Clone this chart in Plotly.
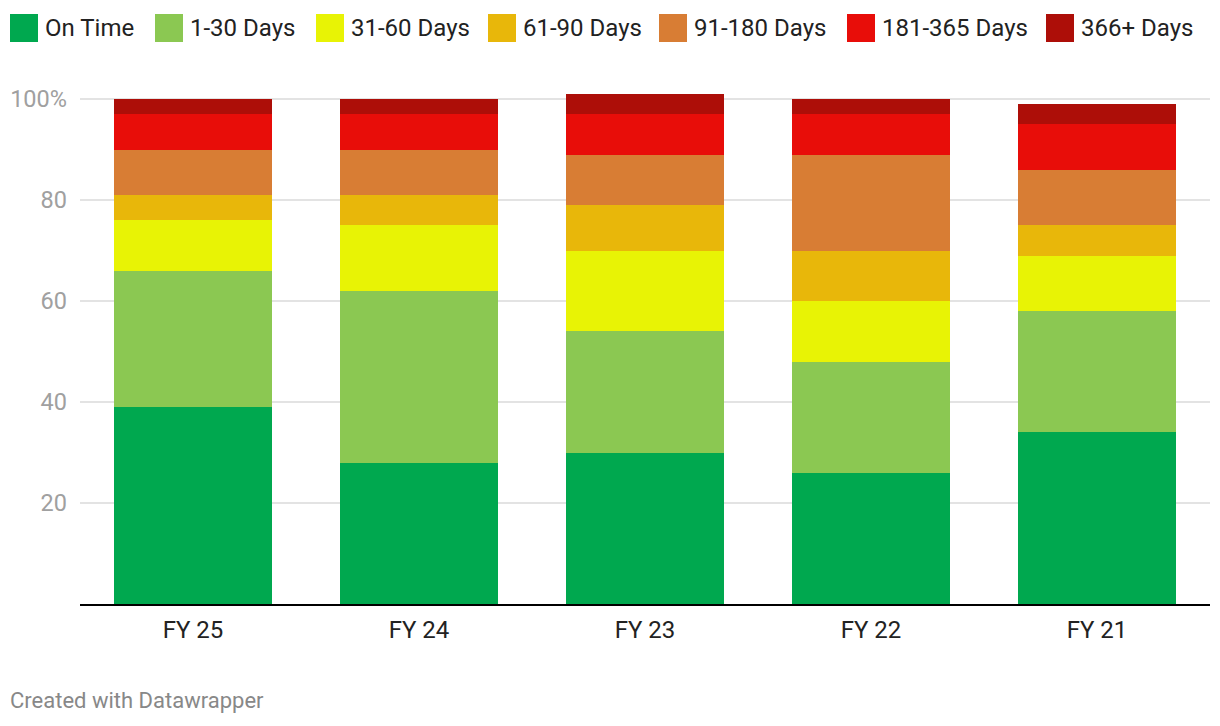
import plotly.graph_objects as go

categories = ["FY 25", "FY 24", "FY 23", "FY 22", "FY 21"]
series_names = ["On Time", "1-30 Days", "31-60 Days", "61-90 Days", "91-180 Days", "181-365 Days", "366+ Days"]
colors = ["#00a84f", "#8bc852", "#e8f305", "#e8b70a", "#d87d34", "#e80d09", "#ad0e08"]

on_time = [39, 28, 30, 26, 34]
d1_30 = [27, 34, 24, 22, 24]
d31_60 = [10, 13, 16, 12, 11]
d61_90 = [5, 6, 9, 10, 6]
d91_180 = [9, 9, 10, 19, 11]
d181_365 = [7, 7, 8, 8, 9]
d366 = [3, 3, 4, 3, 4]
series_values = [on_time, d1_30, d31_60, d61_90, d91_180, d181_365, d366]

tick_vals = [20, 40, 60, 80, 100]
tick_text = ["20", "40", "60", "80", "100%"]

# page body has an 8px margin; figure coordinates are page coords minus 8
OFF = 8
W, H = 1204, 710
ML, MR, MT, MB = 72, 2, 81, 114
PW, PH = W - ML - MR, H - MT - MB


def px_x(x):
    return (x - OFF - ML) / PW


def px_y(y):
    return (H - MB - (y - OFF)) / PH


fig = go.Figure()
for name, vals, col in zip(series_names, series_values, colors):
    fig.add_trace(go.Bar(x=categories, y=vals, name=name, marker=dict(color=col, line=dict(width=0)),
                         hoverinfo="x+y+name"))

# custom legend (boxes + labels)
legend_x = [10, 155, 316, 488, 659, 847, 1046]
shapes = []
annotations = []
for lx, name, col in zip(legend_x, series_names, colors):
    shapes.append(dict(type="rect", xref="paper", yref="paper",
                       x0=px_x(lx), x1=px_x(lx + 28),
                       y0=px_y(42), y1=px_y(14),
                       fillcolor=col, line=dict(width=0)))
    annotations.append(dict(text=name, xref="paper", yref="paper",
                            x=px_x(lx + 33), y=px_y(28),
                            xanchor="left", yanchor="middle", showarrow=False,
                            font=dict(family="Roboto", size=24, color="#222222")))

annotations.append(dict(text="Created with Datawrapper", xref="paper", yref="paper",
                        x=px_x(8), y=px_y(700), xanchor="left", yanchor="middle",
                        showarrow=False, font=dict(family="Roboto", size=22, color="#888888")))

fig.update_layout(
    width=W, height=H,
    margin=dict(l=ML, r=MR, t=MT, b=MB),
    barmode="stack", bargap=0.3,
    showlegend=False,
    plot_bgcolor="white", paper_bgcolor="white",
    font=dict(family="Roboto"),
    shapes=shapes, annotations=annotations,
    xaxis=dict(showline=True, linecolor="#000000", linewidth=2, ticks="",
               tickfont=dict(size=24, color="#222222"), ticklabelstandoff=3),
    yaxis=dict(range=[0, 102], tickvals=tick_vals, ticktext=tick_text, showgrid=True,
               gridcolor="#e3e3e3", gridwidth=2, zeroline=False, ticks="",
               tickfont=dict(size=23.5, color="#a0a0a0"), ticklabelstandoff=12),
)

fig.write_html("out.html")
